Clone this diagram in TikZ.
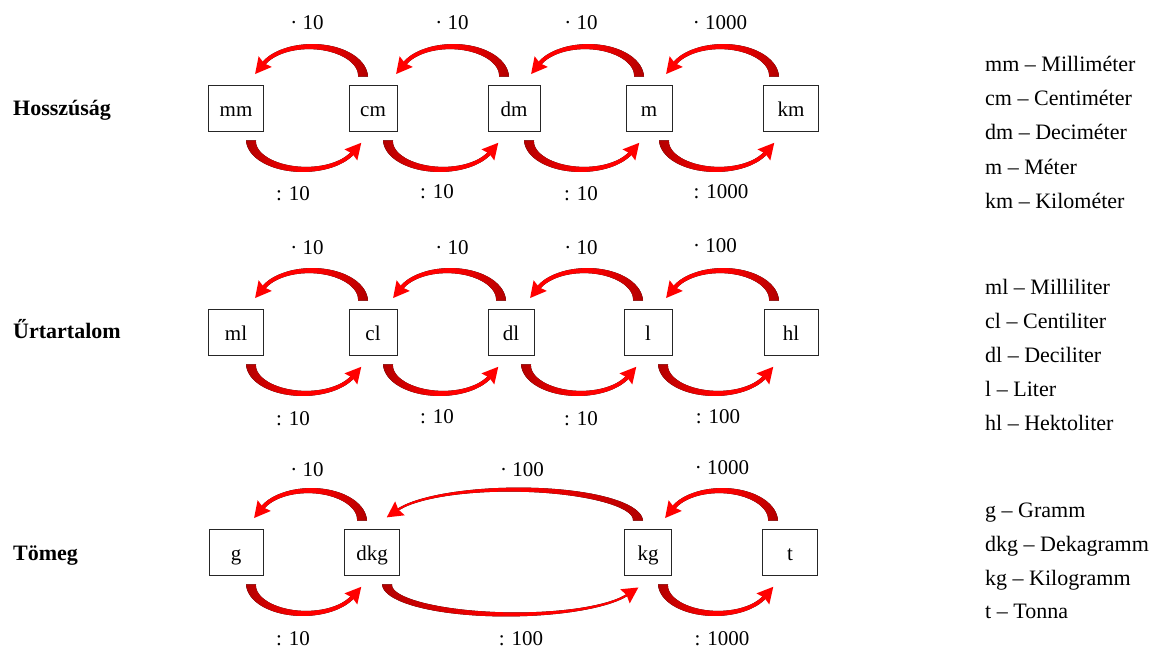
\documentclass[tikz,border=0pt]{standalone}
\usepackage{fontspec}
\setmainfont{Liberation Serif}
\usetikzlibrary{calc}

% most of the arc is plain red, only the tail end darkens
\pgfdeclarehorizontalshading{tailshade}{100bp}{color(0bp)=(red); color(50bp)=(red); color(75bp)=(red!70!black); color(100bp)=(red!70!black)}

\tikzset{
  unit/.style={draw=black!85, line width=0.8pt, minimum height=46pt, inner sep=0pt,
    text height=17pt, text depth=0pt, font=\fontsize{21}{25}\selectfont},
  factor/.style={anchor=base, inner sep=0pt, font=\fontsize{21}{25}\selectfont},
  legend/.style={anchor=base west, inner sep=0pt, font=\fontsize{22}{26}\selectfont},
  quantity/.style={anchor=base west, inner sep=0pt, font=\fontsize{22}{26}\selectfont\bfseries},
  bodyshade/.style={shading=tailshade},
  headfill/.style={fill=red},
}

% half width of the arrow body near its head
\def\thinhw{2}

% tapered curved arrow: [end angle]{tail point}{half span a}{height b}{rotation}
\newcommand\bendarrow[5][155]{%
  \begin{scope}[shift={#2}, rotate=#5]
    \pgfmathsetmacro\arcA{#3}
    \pgfmathsetmacro\arcB{#4}
    \pgfmathsetmacro\arcEnd{#1}
    \pgfmathsetmacro\arcGain{5-\thinhw}
    \fill[bodyshade, shading angle=#5] plot[domain=0:\arcEnd, samples=50, variable=\t]
        ({-\arcA+(\arcA+\thinhw+\arcGain*(1-\t/\arcEnd)^2)*cos(\t)},
         {-(\arcB+\thinhw+\arcGain*(1-\t/\arcEnd)^2)*sin(\t)})
      -- plot[domain=\arcEnd:0, samples=50, variable=\t]
        ({-\arcA+(\arcA-\thinhw-\arcGain*(1-\t/\arcEnd)^2)*cos(\t)},
         {-(\arcB-\thinhw-\arcGain*(1-\t/\arcEnd)^2)*sin(\t)})
      -- cycle;
    \pgfmathsetmacro\hpx{-\arcA+\arcA*cos(\arcEnd)}
    \pgfmathsetmacro\hpy{-\arcB*sin(\arcEnd)}
    \pgfmathsetmacro\hdx{-\arcA*sin(\arcEnd)}
    \pgfmathsetmacro\hdy{-\arcB*cos(\arcEnd)}
    \pgfmathsetmacro\hdl{sqrt(\hdx*\hdx+\hdy*\hdy)}
    \pgfmathsetmacro\hux{\hdx/\hdl}
    \pgfmathsetmacro\huy{\hdy/\hdl}
    \fill[headfill] ({\hpx-\huy*8.5-\hux*3},{\hpy+\hux*8.5-\huy*3})
      -- ({\hpx+\hux*13},{\hpy+\huy*13})
      -- ({\hpx+\huy*8.5-\hux*3},{\hpy-\hux*8.5-\huy*3})
      -- ({\hpx-\hux*1},{\hpy-\huy*1}) -- cycle;
  \end{scope}}

\begin{document}
\begin{tikzpicture}[x=1pt, y=-1pt]
  \useasboundingbox (0,0) rectangle (1162,649);

  % quantity names
  \node[quantity] (q1) at (13,115) {Hosszúság};
  \node[quantity] (q2) at (13,338) {Űrtartalom};
  \node[quantity] (q3) at (13,560) {Tömeg};

  % length units
  \node[unit, minimum width=55pt] (mm) at (236,108) {mm};
  \node[unit, minimum width=48pt] (cm) at (373,108) {cm};
  \node[unit, minimum width=52pt] (dm) at (514,108) {dm};
  \node[unit, minimum width=46pt] (m)  at (649,108) {m};
  \node[unit, minimum width=55pt] (km) at (791,108) {km};

  % volume units
  \node[unit, minimum width=55pt] (ml) at (236,332) {ml};
  \node[unit, minimum width=48pt] (cl) at (373,332) {cl};
  \node[unit, minimum width=46pt] (dl) at (511,332) {dl};
  \node[unit, minimum width=48pt] (l)  at (648,332) {l};
  \node[unit, minimum width=54pt] (hl) at (791,332) {hl};

  % mass units
  \node[unit, minimum width=54pt] (g)   at (236,552) {g};
  \node[unit, minimum width=55pt] (dkg) at (372,552) {dkg};
  \node[unit, minimum width=47pt] (kg)  at (648,552) {kg};
  \node[unit, minimum width=55pt] (t)   at (790,552) {t};

  % multiplying arrows (upper) and dividing arrows (lower)
  \foreach \a/\b in {mm/cm, cm/dm, dm/m, ml/cl, cl/dl, dl/l, g/dkg} {
    \bendarrow{($(\b.north)+(-10,-8)$)}{52.3}{30}{0}
    \bendarrow{($(\a.south)+(15,9)$)}{53.4}{29}{180}
  }
  \foreach \a/\b in {m/km, l/hl, kg/t} {
    \bendarrow{($(\b.north)+(-17,-8)$)}{52.3}{30}{0}
    \bendarrow{($(\a.south)+(15,9)$)}{53.4}{29}{180}
  }
  \def\thinhw{1.3}
  \bendarrow[160]{($(kg.north)+(-10,-8)$)}{124}{31}{0}
  \bendarrow[160]{($(dkg.south)+(15,9)$)}{124}{30}{180}

  % factors, length
  \node[factor] (f11) at (307,29) {· 10};
  \node[factor] (f12) at (452,29) {· 10};
  \node[factor] (f13) at (581,29) {· 10};
  \node[factor] (f14) at (720,29) {· 1000};
  \node[factor] (d11) at (293,200) {: 10};
  \node[factor] (d12) at (437,198) {: 10};
  \node[factor] (d13) at (581,200) {: 10};
  \node[factor] (d14) at (721,198) {: 1000};

  % factors, volume
  \node[factor] (f21) at (307,254) {· 10};
  \node[factor] (f22) at (452,254) {· 10};
  \node[factor] (f23) at (581,254) {· 10};
  \node[factor] (f24) at (715,252) {· 100};
  \node[factor] (d21) at (293,425) {: 10};
  \node[factor] (d22) at (437,423) {: 10};
  \node[factor] (d23) at (581,425) {: 10};
  \node[factor] (d24) at (718,423) {: 100};

  % factors, mass
  \node[factor] (f31) at (307,476) {· 10};
  \node[factor] (f32) at (522,476) {· 100};
  \node[factor] (f33) at (722,474) {· 1000};
  \node[factor] (d31) at (293,645) {: 10};
  \node[factor] (d32) at (521,645) {: 100};
  \node[factor] (d33) at (722,645) {: 1000};

  % abbreviations
  \node[legend] (a1) at (985,71)  {mm – Milliméter};
  \node[legend] (a2) at (985,105) {cm – Centiméter};
  \node[legend] (a3) at (985,139) {dm – Deciméter};
  \node[legend] (a4) at (985,174) {m – Méter};
  \node[legend] (a5) at (985,208) {km – Kilométer};

  \node[legend] (b1) at (985,294) {ml – Milliliter};
  \node[legend] (b2) at (985,328) {cl – Centiliter};
  \node[legend] (b3) at (985,362) {dl – Deciliter};
  \node[legend] (b4) at (985,396) {l – Liter};
  \node[legend] (b5) at (985,430) {hl – Hektoliter};

  \node[legend] (c1) at (985,517) {g – Gramm};
  \node[legend] (c2) at (985,551) {dkg – Dekagramm};
  \node[legend] (c3) at (985,585) {kg – Kilogramm};
  \node[legend] (c4) at (985,618) {t – Tonna};
\end{tikzpicture}
\end{document}
